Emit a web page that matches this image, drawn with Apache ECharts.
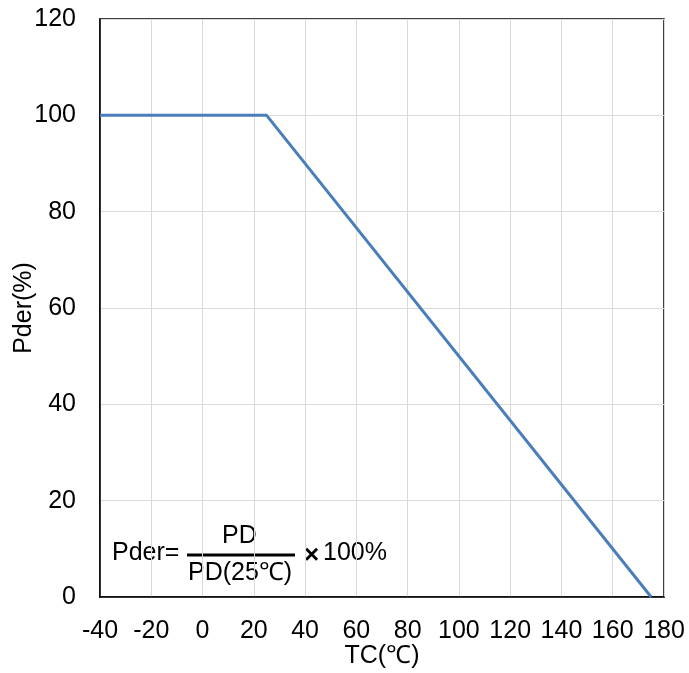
<!DOCTYPE html>
<html>
<head>
<meta charset="utf-8">
<script src="https://cdn.jsdelivr.net/npm/echarts@6/dist/echarts.min.js"></script>
<style>
  html, body { margin: 0; padding: 0; background: #fff; }
  #chart { width: 689px; height: 673px; }
</style>
</head>
<body>
<div id="chart"></div>
<script>
  // derating curve: case temperature vs allowed power
  var tempC = [-40, 25, 175];
  var pder = [100, 100, 0];

  var font = "'Liberation Sans', Arial, sans-serif";
  var lineColor = '#4a7ebb';

  var chart = echarts.init(document.getElementById('chart'));
  var option = {
    animation: false,
    grid: {
      left: 100, right: 25, top: 19, bottom: 76,
      outerBoundsMode: 'none',
      show: true, borderColor: '#000', borderWidth: 1.5
    },
    xAxis: {
      type: 'value', min: -40, max: 180, interval: 20,
      name: 'TC(℃)', nameLocation: 'middle', nameGap: 47, nameMoveOverlap: false,
      nameTextStyle: { fontFamily: font, fontSize: 25, color: '#000' },
      axisLine: { show: true, onZero: false, lineStyle: { color: '#000', width: 1.5 } },
      axisTick: { show: false },
      axisLabel: { margin: 22, fontFamily: font, fontSize: 25, color: '#000' },
      splitLine: { show: true, lineStyle: { color: '#d9d9d9', width: 1 } }
    },
    yAxis: {
      type: 'value', min: 0, max: 120, interval: 20,
      name: 'Pder(%)', nameLocation: 'middle', nameGap: 63, nameMoveOverlap: false,
      nameTextStyle: { fontFamily: font, fontSize: 25, color: '#000' },
      axisLine: { show: true, onZero: false, lineStyle: { color: '#000', width: 1.5 } },
      axisTick: { show: false },
      axisLabel: { margin: 24, fontFamily: font, fontSize: 25, color: '#000' },
      splitLine: { show: true, lineStyle: { color: '#d9d9d9', width: 1 } }
    },
    series: [{
      type: 'line',
      data: tempC.map(function (t, i) { return [t, pder[i]]; }),
      symbol: 'none',
      lineStyle: { color: lineColor, width: 3 }
    }],
    graphic: [
      { type: 'text', left: 112, top: 541,
        style: { text: 'Pder=', font: '25px ' + font, fill: '#000' } },
      { type: 'text', left: 222, top: 524,
        style: { text: 'PD', font: '25px ' + font, fill: '#000' } },
      { type: 'line', shape: { x1: 187, y1: 555, x2: 295, y2: 555 },
        style: { stroke: '#000', lineWidth: 3 } },
      { type: 'text', left: 188, top: 561,
        style: { text: 'PD(25℃)', font: '25px ' + font, fill: '#000' } },
      { type: 'text', left: 304, top: 543,
        style: { text: '×', font: 'bold 26px ' + font, fill: '#000' } },
      { type: 'text', left: 323, top: 541,
        style: { text: '100%', font: '25px ' + font, fill: '#000' } }
    ]
  };
  chart.setOption(option);
</script>
</body>
</html>
